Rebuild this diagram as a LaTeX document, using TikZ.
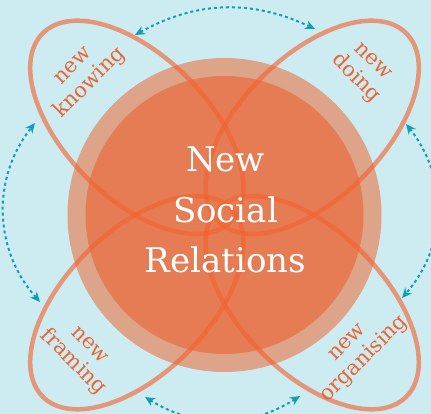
\documentclass[tikz,border=0pt]{standalone}
\usepackage{fontspec}
\setmainfont{DejaVu Serif}
\usetikzlibrary{arrows.meta}
\definecolor{sky}{RGB}{205,236,241}
\definecolor{ringc}{RGB}{221,164,138}
\definecolor{corec}{RGB}{230,124,83}
\definecolor{orbitc}{RGB}{245,97,46}
\definecolor{tagc}{RGB}{236,100,50}
\definecolor{linkc}{RGB}{15,160,182}
\begin{document}
\begin{tikzpicture}[x=1pt,y=1pt,
  orbit/.style={draw=orbitc,line width=4.5pt,draw opacity=.62},
  tag/.style={text=tagc,align=center,inner sep=1pt,font={\fontsize{21}{24}\selectfont}},
  link/.style={draw=linkc,line width=2pt,dash pattern=on 3pt off 3pt,
    {Stealth[length=10pt,width=9pt]}-{Stealth[length=10pt,width=9pt]}}]
  \fill[sky] (-224.5,-199) rectangle (206.5,215);
  \useasboundingbox (-224.5,-199) rectangle (206.5,215);
  \fill[ringc] (0,0) circle (157);
  \fill[corec] (0,0) circle (139);
  \foreach \ang in {45,135,225,315}
    \draw[orbit,rotate=\ang] (124,0) ellipse (133 and 71);
  \node[text=white,align=center,font={\fontsize{34}{50.5}\selectfont}] (core) at (1,5) {New\\Social\\Relations};
  \node[tag,rotate=45] (knowing) at (-141.5,139) {new\\knowing};
  \node[tag,rotate=-45] (doing) at (138.5,144) {new\\doing};
  \node[tag,rotate=-45] (framing) at (-144.5,-140) {new\\framing};
  \node[tag,rotate=45] (organising) at (132.5,-137) {new\\organising};
  \coordinate (tl) at (-89.5,180);
  \coordinate (tr) at (90.5,186);
  \coordinate (rt) at (181.5,91);
  \coordinate (rb) at (177.5,-83);
  \coordinate (br) at (75.5,-181);
  \coordinate (bl) at (-79.5,-182);
  \coordinate (lb) at (-184.5,-87);
  \coordinate (lt) at (-189.5,92);
  \draw[link] (tl) to[bend left=27] (tr);
  \draw[link] (rt) to[bend left=40] (rb);
  \draw[link] (br) to[bend left=32] (bl);
  \draw[link] (lb) to[bend left=40] (lt);
\end{tikzpicture}
\end{document}
